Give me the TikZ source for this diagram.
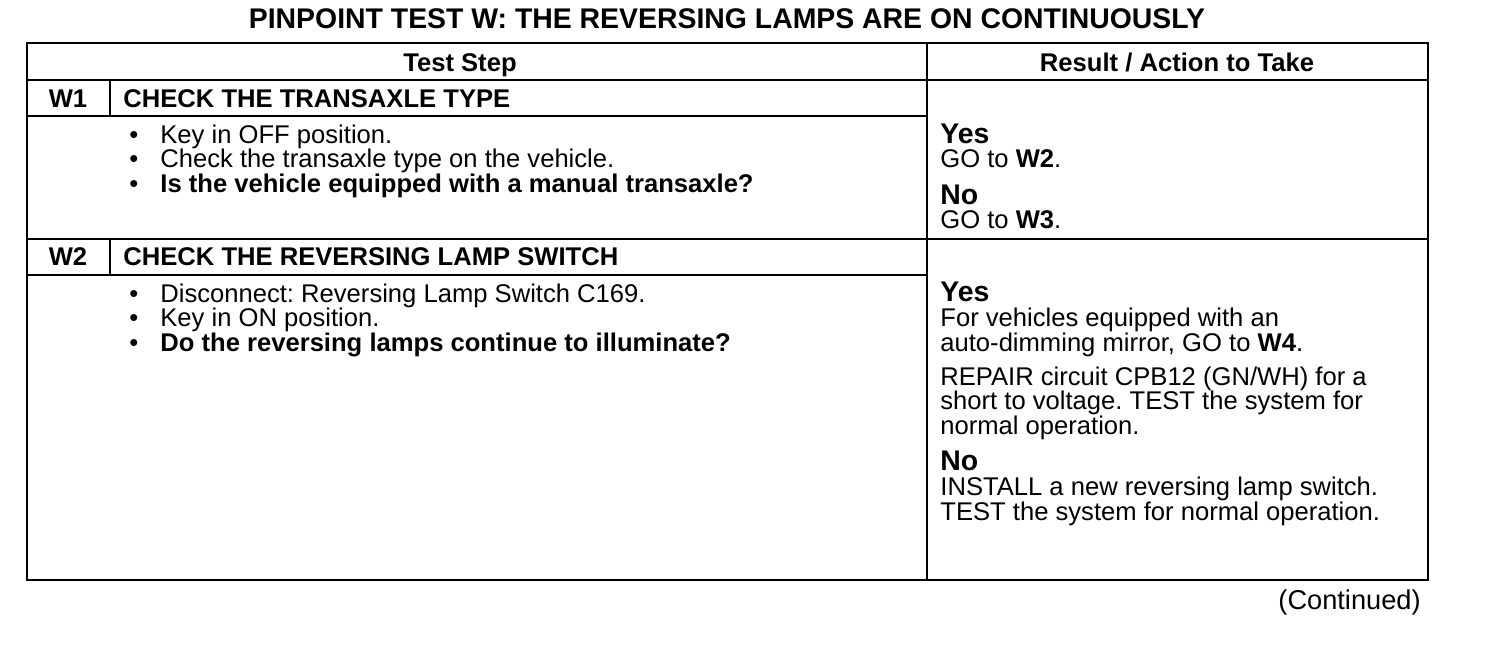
\documentclass[tikz,border=0pt]{standalone}
\usepackage{fontspec}
\setmainfont{Liberation Sans}
\frenchspacing
\newcommand{\itm}{\makebox[18pt][l]{\hspace{2.5pt}\textbullet}}
\newcommand{\ans}[1]{{\fontsize{14.2}{15}\selectfont\textbf{#1}}}
\tikzset{
  rule/.style={line width=1pt},
  txt/.style={anchor=base west, align=left, inner sep=0pt, font=\fontsize{12.8}{12.25}\selectfont},
  head/.style={anchor=base, inner sep=0pt, font=\fontsize{12.8}{13}\selectfont\bfseries}
}
\begin{document}
\begin{tikzpicture}[x=0.5pt,y=-0.5pt]
            \useasboundingbox (0,0) rectangle (1504,648);
            % table frame
            \draw[rule] (27,43) rectangle (1428,580);
            \draw[rule] (927,43)--(927,580);
            \draw[rule] (27,80)--(1428,80);
            \draw[rule] (27,116)--(927,116);
            \draw[rule] (27,239)--(1428,239);
            \draw[rule] (27,275)--(927,275);
            \draw[rule] (110,80)--(110,116);
            \draw[rule] (110,239)--(110,275);

            \node[anchor=base, inner sep=0pt, font=\fontsize{14.2}{15}\selectfont\bfseries] (title) at (727,28)
                {PINPOINT TEST W: THE REVERSING LAMPS ARE ON CONTINUOUSLY};
            \node[head] (step) at (460,71) {Test Step};
            \node[head] (result) at (1177,71) {Result / Action to Take};

            % step W1 (multi-line nodes sit on their last line)
            \node[head] (w1) at (68,107) {W1};
            \node[txt, font=\fontsize{12.8}{13}\selectfont\bfseries] (w1title) at (123,107) {CHECK THE TRANSAXLE TYPE};
            \node[txt] (w1list) at (124,192) {\itm Key in OFF position.\\
                \itm Check the transaxle type on the vehicle.\\
                \itm\textbf{Is the vehicle equipped with a manual transaxle?}};
            \node[txt] (w1yes) at (940,143) {\ans{Yes}};
            \node[txt] (w1yesgo) at (940,167) {GO to \textbf{W2}.};
            \node[txt] (w1no) at (940,204) {\ans{No}};
            \node[txt] (w1nogo) at (940,228) {GO to \textbf{W3}.};

            % step W2
            \node[head] (w2) at (68,265) {W2};
            \node[txt, font=\fontsize{12.8}{13}\selectfont\bfseries] (w2title) at (123,265) {CHECK THE REVERSING LAMP SWITCH};
            \node[txt] (w2list) at (124,351) {\itm Disconnect: Reversing Lamp Switch C169.\\
                \itm Key in ON position.\\
                \itm\textbf{Do the reversing lamps continue to illuminate?}};
            \node[txt] (w2yes) at (940,301) {\ans{Yes}};
            \node[txt] (w2yesgo) at (940,351) {For vehicles equipped with an\\
                auto-dimming mirror, GO to \textbf{W4}.};
            \node[txt] (w2repair) at (940,434) {REPAIR circuit CPB12 (GN/WH) for a\\
                short to voltage. TEST the system for\\
                normal operation.};
            \node[txt] (w2no) at (940,470) {\ans{No}};
            \node[txt] (w2nogo) at (940,520) {INSTALL a new reversing lamp switch.\\
                TEST the system for normal operation.};

            \node[anchor=base east, inner sep=0pt, font=\fontsize{13.6}{14}\selectfont] (cont) at (1421,609) {(Continued)};
\end{tikzpicture}
\end{document}
